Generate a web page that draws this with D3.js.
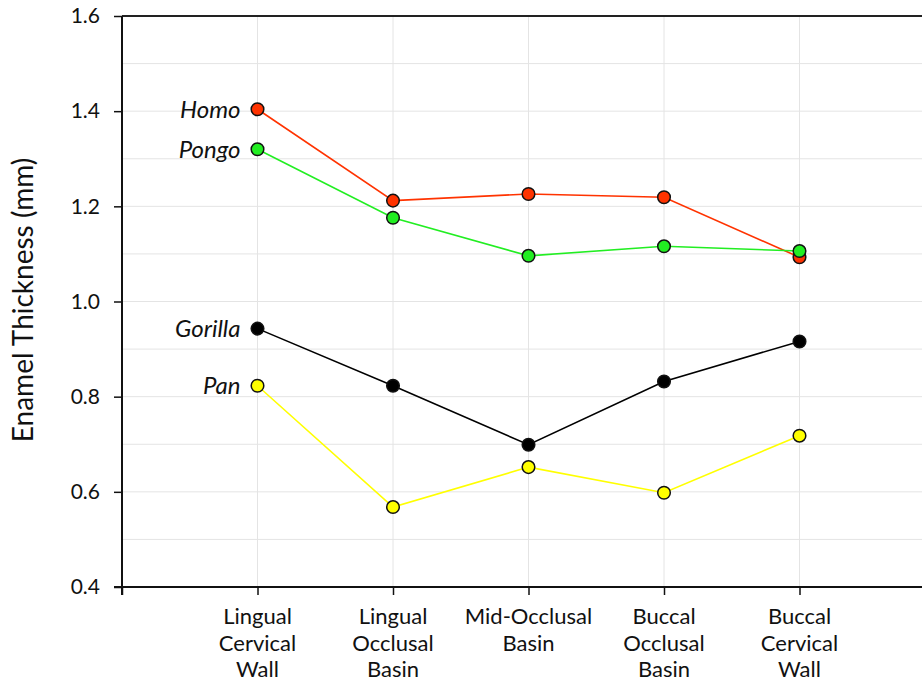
<!DOCTYPE html>
<html><head><meta charset="utf-8">
<script src="https://cdn.jsdelivr.net/npm/d3@7"></script>
<style>body{margin:0;background:#fff;} svg{display:block;} text{font-family:Lato,"Open Sans",sans-serif;fill:#111;}</style>
</head><body>
<svg id="c" width="922" height="683"></svg>
<script>
const categories = [["Lingual","Cervical","Wall"],["Lingual","Occlusal","Basin"],["Mid-Occlusal","Basin"],["Buccal","Occlusal","Basin"],["Buccal","Cervical","Wall"]];
const seriesNames = ["Homo","Pongo","Gorilla","Pan"];
const homo = [1.404, 1.212, 1.226, 1.219, 1.093];
const pongo = [1.320, 1.176, 1.096, 1.116, 1.106];
const gorilla = [0.943, 0.823, 0.699, 0.832, 0.916];
const pan = [0.823, 0.568, 0.652, 0.598, 0.718];
const colors = ["#ff3300","#22ee22","#000000","#ffff00"];
const yTicks = [0.4,0.6,0.8,1.0,1.2,1.4,1.6];
const yMinor = [0.5,0.7,0.9,1.1,1.3,1.5];

const series = [homo,pongo,gorilla,pan];
const svg = d3.select("#c");
const x = d3.scaleLinear().domain([-1,5]).range([122,935]);
const y = d3.scaleLinear().domain([0.4,1.6]).range([587,16]);
const W = 922;

// grid
const g = svg.append("g");
g.selectAll(".hg").data(yTicks.concat(yMinor)).join("line")
 .attr("x1",122).attr("x2",W).attr("y1",d=>y(d)).attr("y2",d=>y(d))
 .attr("stroke","#e4e4e4").attr("stroke-width",1);
g.selectAll(".vg").data(d3.range(5)).join("line")
 .attr("x1",d=>x(d)).attr("x2",d=>x(d)).attr("y1",16).attr("y2",587)
 .attr("stroke","#e4e4e4").attr("stroke-width",1);

// top border
svg.append("line").attr("x1",122).attr("x2",W).attr("y1",y(1.6)).attr("y2",y(1.6))
 .attr("stroke","#222").attr("stroke-width",2);

// y axis
const ya = svg.append("g").attr("transform","translate(122,0)")
 .call(d3.axisLeft(y).tickValues(yTicks).tickFormat(d3.format(".1f")).tickSize(8).tickPadding(14));
ya.select(".domain").attr("stroke","#111").attr("stroke-width",2).attr("d","M0,16V595");
ya.selectAll(".tick line").attr("stroke","#111").attr("stroke-width",1.5);
ya.selectAll(".tick text").style("font-size","21px").attr("fill","#111");

// x axis
const xa = svg.append("g").attr("transform","translate(0,587)")
 .call(d3.axisBottom(x).tickValues([-1,0,1,2,3,4]).tickFormat("").tickSize(8));
xa.select(".domain").attr("stroke","#111").attr("stroke-width",2).attr("d","M114,0H"+W);
xa.selectAll(".tick line").attr("stroke","#111").attr("stroke-width",1.5);

// category labels
categories.forEach((lines,i)=>{
  const t = svg.append("text").attr("text-anchor","middle").style("font-size","22px");
  lines.forEach((l,j)=>{
    t.append("tspan").attr("x",x(i)).attr("y",624+j*26.5).text(l);
  });
});

// y label
svg.append("text").attr("transform","translate(33,300) rotate(-90)")
 .attr("text-anchor","middle").style("font-size","28px").text("Enamel Thickness (mm)");

// lines & points
const line = d3.line().x((d,i)=>x(i)).y(d=>y(d));
series.forEach((s,k)=>{
  svg.append("path").datum(s).attr("d",line).attr("fill","none")
   .attr("stroke",colors[k]).attr("stroke-width",1.6);
});
series.forEach((s,k)=>{
  svg.selectAll(null).data(s).join("circle")
   .attr("cx",(d,i)=>x(i)).attr("cy",d=>y(d)).attr("r",6.3)
   .attr("fill",colors[k]).attr("stroke","#111").attr("stroke-width",1.5);
});

// series labels
seriesNames.forEach((n,k)=>{
  svg.append("text").attr("x",x(0)-17).attr("y",y(series[k][0])).attr("dy","0.35em")
   .attr("text-anchor","end").style("font-size","24px").style("font-style","italic").text(n);
});
</script>
</body></html>
